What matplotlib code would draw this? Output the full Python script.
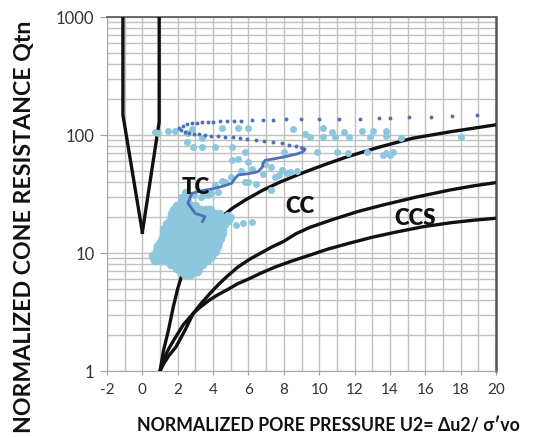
import matplotlib
matplotlib.use("Agg")
import matplotlib.pyplot as plt
from matplotlib.ticker import NullFormatter, MultipleLocator

plt.rcParams['font.family'] = ['Lato', 'DejaVu Sans']
plt.rcParams['axes.unicode_minus'] = False

# ---- boundary curves ----
v_left_x = [-1.1, -1.1, 0.0]
v_left_q = [1000, 148, 15]
v_right_x = [0.95, 0.95, 0.0]
v_right_q = [1000, 129, 15]

tc_x = [1.0, 1.2, 1.47, 1.75, 2.0, 2.3, 2.6, 3.2, 3.8, 4.5, 5.1, 5.8, 6.8, 7.8, 9.1, 10.3, 11.6, 13.4, 15.3, 17.5, 20.0]
tc_q = [1.0, 1.5, 2.2, 3.5, 5.0, 7.0, 9.0, 12.5, 16.0, 20.4, 24.0, 28.0, 34.0, 40.0, 48.0, 56.0, 65.5, 79.0, 94.0, 107.0, 122.0]

cc_x = [1.0, 1.2, 1.5, 1.9, 2.4, 2.88, 3.3, 3.8, 4.3, 4.77, 5.4, 6.09, 6.65, 7.3, 7.97, 8.7, 9.48,
        10.8, 12.2, 13.6, 15.5, 17.4, 18.7, 20.0]
cc_q = [1.0, 1.15, 1.35, 1.6, 2.2, 3.08, 3.7, 4.5, 5.4, 6.3, 7.6, 8.9, 9.9, 11.2, 12.5, 14.6, 16.5,
        19.3, 22.5, 25.5, 29.8, 34.2, 37.0, 39.5]

ccs_x = [1.0, 1.2, 1.5, 1.75, 2.3, 2.88, 3.3, 3.8, 4.3, 4.77, 5.4, 6.09, 6.65, 7.5, 8.4, 9.48,
         10.5, 11.7, 13.0, 14.4, 15.87, 17.5, 18.8, 20.0]
ccs_q = [1.0, 1.25, 1.55, 1.8, 2.45, 3.08, 3.5, 4.0, 4.45, 4.85, 5.5, 6.1, 6.7, 7.6, 8.5, 9.6,
         10.8, 12.1, 13.6, 15.1, 16.7, 18.1, 19.0, 19.7]

# ---- dark blue trace (dotted part) ----
dot_x = [18.9, 17.5, 16.3, 15.1, 14.0, 13.4, 12.3, 11.1, 10.0, 8.96, 8.1, 7.4, 6.8, 6.2, 5.6,
         5.2, 4.8, 4.4, 4.0, 3.7, 3.4, 3.1, 2.8, 2.55, 2.3, 2.07,
         2.2, 2.4, 2.65, 2.9, 3.2, 3.55, 3.9, 4.3, 4.7, 5.1, 5.5, 5.9, 6.4, 6.9, 7.4, 7.9,
         8.3, 8.7, 9.0]
dot_q = [148, 145, 142, 141, 140, 140, 137, 136, 136, 136, 136, 135, 134, 133, 132,
         132, 131, 131, 130, 129, 128, 127, 126, 123, 119, 114,
         110, 107, 104, 102, 101, 100, 99, 98, 97, 95.5, 94, 93, 91, 89.6, 87, 85,
         83, 80, 78]

# ---- dark blue trace (continuous part) ----
line_x = [9.0, 9.2, 9.15, 9.0, 8.73, 8.07, 7.5, 6.94, 6.8, 6.8, 6.54, 6.0, 5.41, 5.2, 5.05,
          4.6, 4.1, 3.36, 2.79, 2.58, 2.98, 3.54, 3.4]
line_q = [78, 76, 73.5, 71, 69, 65.5, 63, 61, 57, 53.8, 48.9, 47, 45.8, 42, 39,
          37, 35.3, 33.7, 32, 26.4, 21.7, 20.3, 18.5]

# ---- light blue scattered points ----
lb_x = [0.71, 0.9, 1.47, 1.85, 2.5, 2.8, 3.36, 4.49, 5.43, 6.0, 2.5, 2.88, 3.36, 4.1, 5.05,
        5.8, 5.05, 5.43, 6.0, 6.94, 7.3, 7.9, 8.35, 8.73, 7.5, 7.3, 5.8, 4.67, 4.1,
        8.5, 9.2, 9.48, 10.2, 10.2, 10.7, 10.9, 11.4, 11.7, 12.4, 12.9, 13.06, 13.8, 13.8,
        14.6, 18.0, 8.0, 9.86, 11.0, 11.65, 12.7, 13.6, 14.0, 14.2, 13.8,
        2.6, 2.3, 2.9, 3.3, 3.7, 4.5, 6.0, 6.4, 7.3, 5.0, 5.6, 6.2, 6.8, 7.7, 8.2, 4.3,
        3.9, 3.5, 2.4, 2.2,
        4.9, 5.3, 5.7, 6.2, 5.0, 4.8]
lb_q = [107, 103, 109, 109, 103, 112, 94, 114, 114, 114, 88, 79.5, 79.5, 79.5, 79.5,
        72, 61, 63, 59, 57, 54, 50.5, 49, 50, 44, 34.2, 40, 40, 37.6,
        112, 101, 97, 114, 96, 107, 97, 107, 96, 109, 97, 109, 109, 98,
        94, 97, 72, 72, 72, 70, 72, 67.7, 67.7, 72, 70,
        30, 29, 31, 30, 31, 41, 40, 38.6, 34.3, 44, 50, 52, 47, 46, 48, 33,
        32, 31, 33, 30,
        18.5, 17.3, 18.0, 18.3, 20.0, 21.0]

# ---- dense light blue cloud, read row by row ----
blob_row_q = [27.2, 25.2, 23.3, 21.2, 19.3, 17.6, 16.1, 14.7, 13.5, 12.4, 11.4, 10.4, 9.5, 8.8, 8.1, 7.5, 7.0, 6.6]
blob_row_x = [
    [2.25, 2.5],
    [1.95, 2.2, 2.45, 2.75, 3.0],
    [1.8, 2.1, 2.4, 2.7, 3.0, 3.3, 3.6, 3.85],
    [1.7, 2.0, 2.3, 2.6, 2.9, 3.2, 3.5, 3.8, 4.1, 4.35],
    [1.6, 1.9, 2.2, 2.5, 2.8, 3.1, 3.4, 3.7, 4.0, 4.3, 4.55],
    [1.4, 1.7, 2.0, 2.3, 2.6, 2.9, 3.2, 3.5, 3.8, 4.1, 4.35, 4.6],
    [1.25, 1.55, 1.85, 2.15, 2.45, 2.75, 3.05, 3.35, 3.65, 3.95, 4.25, 4.5],
    [1.25, 1.5, 1.8, 2.1, 2.4, 2.7, 3.0, 3.3, 3.6, 3.9, 4.2, 4.5],
    [1.15, 1.45, 1.75, 2.05, 2.35, 2.65, 2.95, 3.25, 3.55, 3.85, 4.15, 4.4],
    [1.05, 1.35, 1.65, 1.95, 2.25, 2.55, 2.85, 3.15, 3.45, 3.75, 4.05, 4.3],
    [0.9, 1.2, 1.5, 1.8, 2.1, 2.4, 2.7, 3.0, 3.3, 3.6, 3.9, 4.2],
    [0.8, 1.1, 1.4, 1.7, 2.0, 2.3, 2.6, 2.9, 3.2, 3.5, 3.8, 4.1],
    [0.6, 0.9, 1.2, 1.5, 1.8, 2.1, 2.4, 2.7, 3.0, 3.3, 3.6, 3.9],
    [0.7, 1.0, 1.3, 1.6, 1.9, 2.2, 2.5, 2.8, 3.1, 3.4, 3.65],
    [1.6, 1.9, 2.2, 2.5, 2.8, 3.1, 3.4],
    [1.95, 2.25, 2.55, 2.85, 3.15],
    [2.2, 2.5, 2.8, 3.1],
    [2.4, 2.7],
]

zone_labels = ["TC", "CC", "CCS"]
zone_label_x = [3.0, 8.9, 15.4]
zone_label_q = [36, 25, 19.6]

x_ticks = [-2, 0, 2, 4, 6, 8, 10, 12, 14, 16, 18, 20]
y_ticks = [1, 10, 100, 1000]

LIGHT = '#8cc7dd'
DARK = '#4b72b6'

fig = plt.figure(figsize=(5.39, 4.38), dpi=100)
ax = fig.add_axes([107/539, 1 - 371/438, (496-107)/539, (371-17)/438])
ax.set_yscale('log')
ax.set_xlim(-2, 20)
ax.set_ylim(1, 1000)

ax.xaxis.set_minor_locator(MultipleLocator(1))
ax.set_xticks(x_ticks)
ax.set_xticklabels([str(t) for t in x_ticks])
ax.set_yticks(y_ticks)
ax.set_yticklabels([str(t) for t in y_ticks])
ax.yaxis.set_minor_formatter(NullFormatter())
ax.grid(True, which='both', color='#c0c0c0', linewidth=1.0)
ax.set_axisbelow(True)
ax.tick_params(axis='x', which='major', length=3, color='#a0a0a0', labelsize=11, pad=6, labelcolor='#333333')
ax.tick_params(axis='y', which='major', length=5, color='#a0a0a0', labelsize=12, pad=4, labelcolor='#333333')
ax.tick_params(which='minor', length=0)
for s in ['left', 'bottom']:
    ax.spines[s].set_color('#a6a6a6')
ax.spines['top'].set_color('#555555')
ax.spines['right'].set_color('#555555')
ax.spines['right'].set_linewidth(1.8)
ax.spines['top'].set_linewidth(1.2)

for xs, qs in [(v_left_x, v_left_q), (v_right_x, v_right_q), (tc_x, tc_q), (cc_x, cc_q), (ccs_x, ccs_q)]:
    ax.plot(xs, qs, '-', color='#111111', lw=2.4, zorder=3, solid_joinstyle='round')

# blob
bx, bq = [], []
for q, xs in zip(blob_row_q, blob_row_x):
    for xv in xs:
        bx.append(xv)
        bq.append(q)
ax.plot(bx, bq, 'o', color=LIGHT, ms=7, mec='none', zorder=4)
ax.plot(lb_x, lb_q, 'o', color=LIGHT, ms=5, mec='none', zorder=4)

ax.plot(dot_x, dot_q, 'o', color=DARK, ms=2.8, mec='none', zorder=5)
ax.plot(line_x, line_q, '-', color=DARK, lw=2.0, zorder=5)

for t, xv, qv in zip(zone_labels, zone_label_x, zone_label_q):
    ax.text(xv, qv, t, fontsize=16, fontweight='heavy', color='#111111', ha='center', va='center', zorder=6)

fig.text(328/539, 1 - 425/438, "NORMALIZED PORE PRESSURE U2= \u0394u2/ \u03c3\u2032vo",
         fontsize=12.8, fontweight='bold', ha='center', va='center', color='#111111')
fig.text(25/539, 1 - 227/438, "NORMALIZED CONE RESISTANCE Qtn", fontsize=16.7, fontweight='bold',
         rotation=90, ha='center', va='center', color='#111111')

fig.savefig('out.png', dpi=100)
